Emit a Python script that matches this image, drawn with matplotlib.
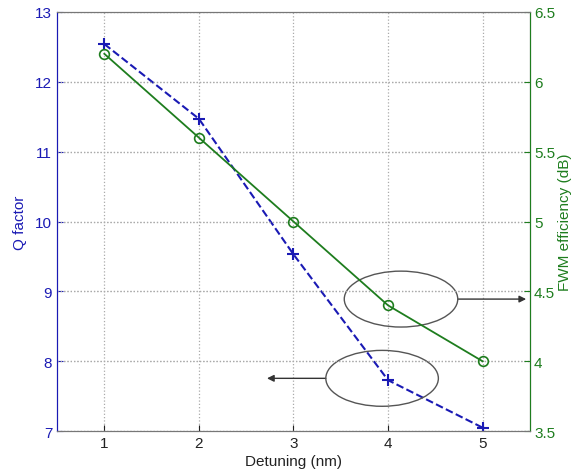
import numpy as np
import matplotlib.pyplot as plt
from matplotlib.patches import Ellipse

detuning = [1, 2, 3, 4, 5]
q_factor = [12.54, 11.47, 9.53, 7.73, 7.05]
fwm_eff = [6.2, 5.6, 5.0, 4.4, 4.0]

blue = '#1a1ab4'
green = '#1e7d1e'

plt.rcParams['font.family'] = ['Liberation Sans', 'DejaVu Sans']

fig = plt.figure(figsize=(5.76, 4.77), dpi=100)
ax = fig.add_axes([0.099, 0.094, 0.821, 0.879])
ax2 = ax.twinx()

ax.plot(detuning, q_factor, '--', color=blue, marker='+', markersize=9,
        markeredgewidth=1.5, linewidth=1.5, zorder=3)
ax2.plot(detuning, fwm_eff, '-', color=green, marker='o', markersize=7,
         markerfacecolor='none', markeredgewidth=1.2, linewidth=1.3)

ax.set_xlim(0.5, 5.5)
ax.set_ylim(7, 13)
ax2.set_ylim(3.5, 6.5)
ax.set_xticks(detuning)
ax.set_yticks(np.arange(7, 14, 1))
ax2.set_yticks(np.arange(3.5, 6.6, 0.5))
ax2.set_yticklabels(['3.5', '4', '4.5', '5', '5.5', '6', '6.5'])

ax.grid(True, linestyle=':', color='#aaaaaa', linewidth=0.9)
ax2.grid(True, linestyle=':', color='#aaaaaa', linewidth=0.9)
ax.set_axisbelow(True)

ax.tick_params(axis='both', direction='in', labelsize=11, length=4)
ax.tick_params(axis='y', colors=blue)
ax.tick_params(axis='x', colors='#222222')
ax2.tick_params(axis='y', direction='in', labelsize=11, length=4, colors=green, pad=3)

ax.spines['left'].set_color(blue)
ax2.spines['left'].set_color(blue)
ax2.spines['right'].set_color(green)
for s in ['top', 'bottom']:
    ax.spines[s].set_color('#777777')
    ax2.spines[s].set_color('#777777')

ax.set_xlabel('Detuning (nm)', fontsize=11, color='#222222', labelpad=3)
ax.set_ylabel('Q factor', fontsize=11, color=blue, labelpad=6)
ax2.set_ylabel('FWM efficiency (dB)', fontsize=11, color=green, labelpad=2)

# annotation ellipses with arrows
ax.add_patch(Ellipse((4.137, 8.89), 1.2, 0.80, fill=False, edgecolor='#555555',
                     linewidth=1.0, zorder=4))
ax.annotate('', xy=(5.46, 8.89), xytext=(4.737, 8.89),
            arrowprops=dict(arrowstyle='-|>', color='#333333', lw=1.0,
                            mutation_scale=10, shrinkA=0, shrinkB=0))
ax.add_patch(Ellipse((3.937, 7.756), 1.19, 0.80, fill=False, edgecolor='#555555',
                     linewidth=1.0, zorder=4))
ax.annotate('', xy=(2.72, 7.756), xytext=(3.342, 7.756),
            arrowprops=dict(arrowstyle='-|>', color='#333333', lw=1.0,
                            mutation_scale=10, shrinkA=0, shrinkB=0))

fig.savefig('out.png', dpi=100)
